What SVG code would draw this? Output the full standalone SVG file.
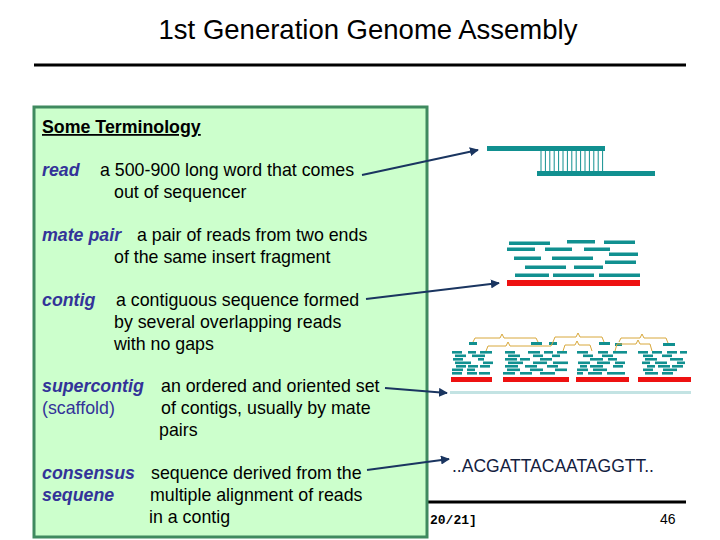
<svg xmlns="http://www.w3.org/2000/svg" width="720" height="540" viewBox="0 0 720 540">
<style>
.t{font-family:"Liberation Sans",Arial,sans-serif;font-size:17.8px;fill:#000}
.k{font-family:"Liberation Sans",Arial,sans-serif;font-size:17.8px;fill:#333399;font-weight:bold;font-style:italic}
.kn{font-family:"Liberation Sans",Arial,sans-serif;font-size:17.8px;fill:#333399}
.r{fill:#119090}
.red{fill:#ee1111}
.br{fill:none;stroke:#d8a83c;stroke-width:1}
.con{stroke:#1a3560;stroke-width:2;fill:none;marker-end:url(#ah)}
</style>
<defs>
<marker id="ah" viewBox="0 0 10 10" refX="9" refY="5" markerWidth="4.5" markerHeight="4.5" orient="auto" markerUnits="strokeWidth">
<path d="M0,0 L10,5 L0,10 z" fill="#1a3560"/>
</marker>
</defs>
<rect width="720" height="540" fill="#fff"/>
<g id="title">
<text x="368" y="39" text-anchor="middle" font-family="'Liberation Sans',Arial,sans-serif" font-size="27.5" fill="#000">1st Generation Genome Assembly</text>
<line x1="34" y1="65" x2="686" y2="65" stroke="#000" stroke-width="3"/>
</g>
<g id="footer">
<line x1="34" y1="502" x2="686" y2="502" stroke="#000" stroke-width="3"/>
<text x="430" y="524" font-family="'Liberation Mono','Courier New',monospace" font-weight="bold" font-size="13" fill="#000">20/21]</text>
<text x="660" y="524" font-family="'Liberation Sans',Arial,sans-serif" font-size="14" fill="#000">46</text>
</g>
<g id="terminology">
<rect x="34" y="107" width="393" height="430" fill="#ccffcc" stroke="#3f8a5f" stroke-width="3"/>
<text x="42" y="133" class="t" font-weight="bold" text-decoration="underline">Some Terminology</text>
<text x="42" y="176" class="k">read</text>
<text x="100" y="176" class="t">a 500-900 long word that comes</text>
<text x="114" y="198" class="t">out of sequencer</text>
<text x="42" y="241" class="k">mate pair</text>
<text x="137" y="241" class="t">a pair of reads from two ends</text>
<text x="114" y="263" class="t">of the same insert fragment</text>
<text x="42" y="306" class="k">contig</text>
<text x="116" y="306" class="t">a contiguous sequence formed</text>
<text x="114" y="328" class="t">by several overlapping reads</text>
<text x="114" y="350" class="t">with no gaps</text>
<text x="42" y="392" class="k">supercontig</text>
<text x="161" y="392" class="t">an ordered and oriented set</text>
<text x="42" y="414" class="kn">(scaffold)</text>
<text x="161" y="414" class="t">of contigs, usually by mate</text>
<text x="159" y="436" class="t">pairs</text>
<text x="42" y="479" class="k">consensus</text>
<text x="151" y="479" class="t">sequence derived from the</text>
<text x="42" y="501" class="k">sequene</text>
<text x="150" y="501" class="t">multiple alignment of reads</text>
<text x="149" y="523" class="t">in a contig</text>
</g>
<g id="read-pair">
<rect class="r" x="487" y="146" width="118" height="5"/>
<rect class="r" x="537" y="171" width="118" height="5"/>
<g stroke="#119090" stroke-width="1">
<line x1="541" y1="151" x2="541" y2="171"/><line x1="545.4" y1="151" x2="545.4" y2="171"/><line x1="549.8" y1="151" x2="549.8" y2="171"/><line x1="554.2" y1="151" x2="554.2" y2="171"/><line x1="558.6" y1="151" x2="558.6" y2="171"/><line x1="563" y1="151" x2="563" y2="171"/><line x1="567.4" y1="151" x2="567.4" y2="171"/><line x1="571.8" y1="151" x2="571.8" y2="171"/><line x1="576.2" y1="151" x2="576.2" y2="171"/><line x1="580.6" y1="151" x2="580.6" y2="171"/><line x1="585" y1="151" x2="585" y2="171"/><line x1="589.4" y1="151" x2="589.4" y2="171"/><line x1="593.8" y1="151" x2="593.8" y2="171"/><line x1="598.2" y1="151" x2="598.2" y2="171"/><line x1="602.6" y1="151" x2="602.6" y2="171"/>
</g>
</g>
<g id="contig">
<rect class="r" x="509" y="241.5" width="41" height="3.5"/>
<rect class="r" x="567" y="240" width="28" height="3.5"/>
<rect class="r" x="604" y="240.5" width="31" height="3.5"/>
<rect class="r" x="507" y="247.5" width="28" height="3.5"/>
<rect class="r" x="545" y="247.5" width="27" height="3.5"/>
<rect class="r" x="584" y="247.5" width="26" height="3.5"/>
<rect class="r" x="609" y="252.5" width="29" height="3.5"/>
<rect class="r" x="514" y="256.5" width="27" height="3.5"/>
<rect class="r" x="552" y="256.5" width="41" height="3.5"/>
<rect class="r" x="605" y="260.5" width="31" height="3.5"/>
<rect class="r" x="525" y="265.5" width="41" height="3.5"/>
<rect class="r" x="574" y="265.5" width="29" height="3.5"/>
<rect class="r" x="515" y="273.5" width="34" height="3.5"/>
<rect class="r" x="553" y="273.5" width="41" height="3.5"/>
<rect class="r" x="599" y="273.5" width="41" height="3.5"/>
<rect class="red" x="507" y="280" width="133" height="6"/>
</g>
<g id="supercontig">
<g class="r">
<rect x="469" y="342" width="8" height="3"/><rect x="531" y="342" width="11" height="3"/><rect x="549" y="342" width="8" height="3"/>
<rect x="599" y="342" width="11" height="3"/><rect x="615" y="343" width="7" height="3"/><rect x="663" y="343" width="12" height="3"/>
<rect x="452" y="351" width="10" height="2.6"/><rect x="468" y="351" width="8" height="2.6"/><rect x="480" y="351" width="12" height="2.6"/>
<rect x="455" y="354.5" width="11" height="2.6"/><rect x="472" y="354.5" width="13" height="2.6"/>
<rect x="453" y="358" width="10" height="2.6"/><rect x="478" y="358" width="6" height="2.6"/>
<rect x="455" y="361.5" width="16" height="2.6"/><rect x="483" y="361.5" width="10" height="2.6"/>
<rect x="456" y="365" width="10" height="2.6"/><rect x="468" y="365" width="10" height="2.6"/><rect x="480" y="365" width="10" height="2.6"/>
<rect x="452" y="368.5" width="11" height="2.6"/><rect x="467" y="368.5" width="8" height="2.6"/>
<rect x="452" y="372" width="10" height="2.6"/><rect x="467" y="372" width="10" height="2.6"/><rect x="479" y="372" width="11" height="2.6"/>
<rect x="505" y="351" width="10" height="2.6"/><rect x="528" y="351" width="12" height="2.6"/><rect x="544" y="351" width="9" height="2.6"/><rect x="557" y="351" width="10" height="2.6"/>
<rect x="508" y="354.5" width="12" height="2.6"/><rect x="533" y="354.5" width="10" height="2.6"/><rect x="552" y="354.5" width="8" height="2.6"/>
<rect x="505" y="358" width="12" height="2.6"/><rect x="520" y="358" width="10" height="2.6"/><rect x="540" y="358" width="12" height="2.6"/>
<rect x="508" y="361.5" width="15" height="2.6"/><rect x="533" y="361.5" width="14" height="2.6"/><rect x="553" y="361.5" width="15" height="2.6"/>
<rect x="505" y="365" width="13" height="2.6"/><rect x="525" y="365" width="12" height="2.6"/><rect x="547" y="365" width="11" height="2.6"/>
<rect x="507" y="368.5" width="13" height="2.6"/><rect x="530" y="368.5" width="13" height="2.6"/><rect x="555" y="368.5" width="12" height="2.6"/>
<rect x="503" y="372" width="12" height="2.6"/><rect x="520" y="372" width="12" height="2.6"/><rect x="540" y="372" width="15" height="2.6"/>
<rect x="577" y="351" width="11" height="2.6"/><rect x="598" y="351" width="10" height="2.6"/><rect x="613" y="351" width="14" height="2.6"/>
<rect x="583" y="354.5" width="10" height="2.6"/><rect x="602" y="354.5" width="11" height="2.6"/>
<rect x="590" y="358" width="13" height="2.6"/><rect x="608" y="358" width="9" height="2.6"/>
<rect x="578" y="361.5" width="12" height="2.6"/><rect x="597" y="361.5" width="13" height="2.6"/><rect x="615" y="361.5" width="10" height="2.6"/>
<rect x="580" y="365" width="7" height="2.6"/><rect x="590" y="365" width="13" height="2.6"/><rect x="613" y="365" width="10" height="2.6"/>
<rect x="577" y="368.5" width="11" height="2.6"/><rect x="593" y="368.5" width="14" height="2.6"/>
<rect x="577" y="372" width="6" height="2.6"/><rect x="588" y="372" width="14" height="2.6"/><rect x="607" y="372" width="18" height="2.6"/>
<rect x="638" y="351" width="10" height="2.6"/><rect x="652" y="351" width="10" height="2.6"/><rect x="667" y="351" width="10" height="2.6"/><rect x="680" y="351" width="7" height="2.6"/>
<rect x="643" y="354.5" width="10" height="2.6"/><rect x="662" y="354.5" width="10" height="2.6"/>
<rect x="645" y="358" width="12" height="2.6"/><rect x="670" y="358" width="13" height="2.6"/>
<rect x="642" y="361.5" width="8" height="2.6"/><rect x="655" y="361.5" width="12" height="2.6"/><rect x="677" y="361.5" width="8" height="2.6"/>
<rect x="647" y="365" width="8" height="2.6"/><rect x="658" y="365" width="12" height="2.6"/><rect x="672" y="365" width="11" height="2.6"/>
<rect x="643" y="368.5" width="10" height="2.6"/><rect x="663" y="368.5" width="14" height="2.6"/>
<rect x="645" y="372" width="13" height="2.6"/><rect x="662" y="372" width="11" height="2.6"/>
</g>
<path class="br" d="M473,342 L475,338 L500,338 L502,334 L504,338 L536,338 L538,342"/>
<path class="br" d="M486,351 L488,346 L506,346 L508,342 L510,346 L551,346 L553,342"/>
<path class="br" d="M553,342 L555,337 L576,337 L578,333 L580,337 L602,337 L604,342"/>
<path class="br" d="M563,351 L565,345 L575,345 L577,341 L579,345 L590,345 L592,351"/>
<path class="br" d="M619,342 L621,338 L640,338 L642,334 L644,338 L666,338 L668,343"/>
<path class="br" d="M615,351 L617,344 L636,344 L638,340 L640,344 L650,344 L652,351"/>
<rect class="red" x="451" y="377" width="41" height="5"/>
<rect class="red" x="503" y="377" width="66" height="5"/>
<rect class="red" x="576" y="377" width="53" height="5"/>
<rect class="red" x="638" y="377" width="53" height="5"/>
<rect class="r" x="450" y="391" width="241" height="3" opacity="0.25"/>
</g>
<g id="consensus">
<text x="452" y="472" font-family="'Liberation Sans',Arial,sans-serif" font-size="17.5" fill="#14213f">..ACGATTACAATAGGTT..</text>
</g>
<g id="connectors">
<line class="con" x1="362" y1="175" x2="478" y2="150"/>
<line class="con" x1="366" y1="299" x2="499" y2="283"/>
<line class="con" x1="385" y1="388" x2="447" y2="393"/>
<line class="con" x1="367" y1="470" x2="449" y2="459"/>
</g>
</svg>
